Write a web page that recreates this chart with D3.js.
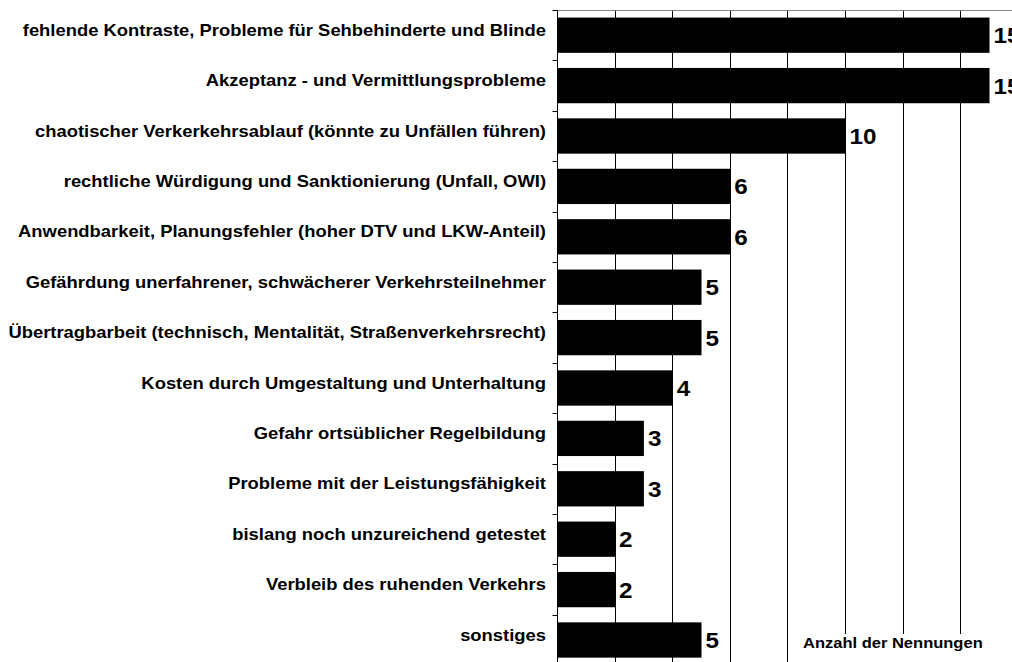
<!DOCTYPE html>
<html>
<head>
<meta charset="utf-8">
<script src="https://cdn.jsdelivr.net/npm/d3@7"></script>
<style>
  body { margin: 0; background: #fff; }
  svg { display: block; font-family: "Liberation Sans", Arial, sans-serif; }
  .cat-label { font-size: 16px; font-weight: bold; fill: #000; }
  .val-label { font-size: 22px; font-weight: bold; fill: #000; }
  .axis-title { font-size: 14px; font-weight: bold; fill: #000; }
</style>
</head>
<body>
<div id="chart"></div>
<script>
var categories = [
    "fehlende Kontraste, Probleme für Sehbehinderte und Blinde",
    "Akzeptanz - und Vermittlungsprobleme",
    "chaotischer Verkerkehrsablauf (könnte zu Unfällen führen)",
    "rechtliche Würdigung und Sanktionierung (Unfall, OWI)",
    "Anwendbarkeit, Planungsfehler (hoher DTV und LKW-Anteil)",
    "Gefährdung unerfahrener, schwächerer Verkehrsteilnehmer",
    "Übertragbarbeit (technisch, Mentalität, Straßenverkehrsrecht)",
    "Kosten durch Umgestaltung und Unterhaltung",
    "Gefahr ortsüblicher Regelbildung",
    "Probleme mit der Leistungsfähigkeit",
    "bislang noch unzureichend getestet",
    "Verbleib des ruhenden Verkehrs",
    "sonstiges"
];
var values = [15, 15, 10, 6, 6, 5, 5, 4, 3, 3, 2, 2, 5];
var gridTicks = [2, 4, 6, 8, 10, 12, 14];
var axisTitle = "Anzahl der Nennungen";

var width = 1012, height = 662;
var margin = { top: 10, left: 557.5 };
var plotRight = 1012 + 40;
var plotBottom = 10 + 13 * 50.4;

var svg = d3.select("#chart")
    .append("svg")
    .attr("width", width)
    .attr("height", height);

var x = d3.scaleLinear()
    .domain([0, 1])
    .range([margin.left, margin.left + 28.8]);

var y = d3.scaleBand()
    .domain(categories)
    .range([margin.top, plotBottom])
    .paddingInner(0.3)
    .paddingOuter(0.15);

// gridlines
svg.append("g")
    .selectAll("line")
    .data(gridTicks)
    .enter()
    .append("line")
    .attr("x1", function(d) { return Math.floor(x(d)) + 0.5; })
    .attr("x2", function(d) { return Math.floor(x(d)) + 0.5; })
    .attr("y1", margin.top)
    .attr("y2", plotBottom)
    .attr("stroke", "#000")
    .attr("stroke-width", 1);

// top border
svg.append("line")
    .attr("x1", margin.left)
    .attr("x2", plotRight)
    .attr("y1", margin.top + 0.5)
    .attr("y2", margin.top + 0.5)
    .attr("stroke", "#888")
    .attr("stroke-width", 1);

// bars
svg.append("g")
    .selectAll("rect")
    .data(values)
    .enter()
    .append("rect")
    .attr("x", x(0))
    .attr("y", function(d, i) { return y(categories[i]); })
    .attr("width", function(d) { return x(d) - x(0); })
    .attr("height", y.bandwidth())
    .attr("fill", "#000");

// left axis with ticks between categories
var yAxis = svg.append("g")
    .attr("transform", "translate(" + margin.left + ",0)");
yAxis.append("line")
    .attr("x1", 0).attr("x2", 0)
    .attr("y1", margin.top)
    .attr("y2", plotBottom)
    .attr("stroke", "#000");
yAxis.selectAll(".tick")
    .data(d3.range(categories.length + 1))
    .enter()
    .append("line")
    .attr("x1", -5).attr("x2", 0)
    .attr("y1", function(i) { return Math.round(margin.top + i * y.step()) + 0.5; })
    .attr("y2", function(i) { return Math.round(margin.top + i * y.step()) + 0.5; })
    .attr("stroke", "#000");

// category labels (original chart is slightly stretched horizontally)
svg.append("g")
    .selectAll("text")
    .data(categories)
    .enter()
    .append("text")
    .attr("class", "cat-label")
    .attr("text-anchor", "end")
    .attr("transform", function(d) {
        return "translate(546," + (y(d) + y.bandwidth() / 2 + 0.5) + ") scale(1.15,1)";
    })
    .text(function(d) { return d; });

// value labels
svg.append("g")
    .selectAll("text")
    .data(values)
    .enter()
    .append("text")
    .attr("class", "val-label")
    .attr("transform", function(d, i) {
        return "translate(" + (x(d) + 4) + "," + (y(categories[i]) + y.bandwidth() / 2 + 8) + ") scale(1.1,1)";
    })
    .text(function(d) { return d; });

// axis title on white box
svg.append("rect")
    .attr("x", 795)
    .attr("y", 634)
    .attr("width", 240)
    .attr("height", 40)
    .attr("fill", "#fff");

svg.append("text")
    .attr("class", "axis-title")
    .attr("transform", "translate(803,647.5) scale(1.18,1)")
    .text(axisTitle);
</script>
</body>
</html>
